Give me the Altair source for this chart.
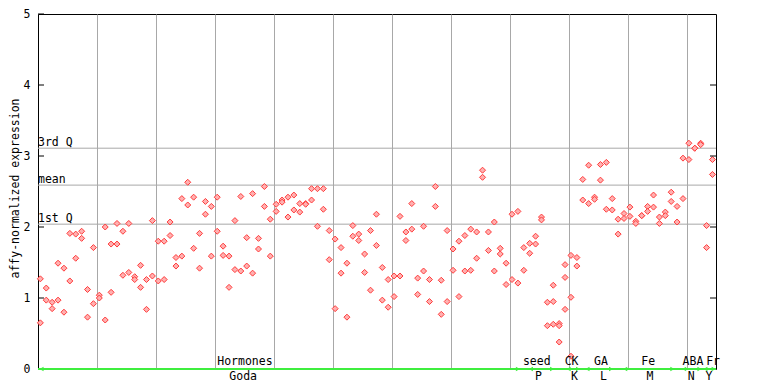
import altair as alt
import pandas as pd

# replicate values per sample column (k = 0..114)
rep_a = [1.27, 1.14, 0.94, 1.49, 1.42, 1.91, 1.90, 1.94, 1.12, 1.71,
         1.04, 2.00, 1.76, 2.05, 1.94, 2.05, 1.30, 1.46, 1.26, 2.09,
         1.80, 1.80, 2.07, 1.57, 2.40, 2.63, 2.42, 1.91, 2.36, 2.29,
         2.42, 1.73, 1.59, 2.09, 2.43, 1.85, 2.47, 1.84, 2.57, 2.11,
         2.32, 2.38, 2.42, 2.45, 2.33, 2.33, 2.54, 2.54, 2.54, 1.95,
         1.83, 1.71, 1.49, 2.02, 1.90, 1.62, 1.95, 2.18, 1.43, 1.26,
         1.31, 2.15, 1.93, 2.33, 1.28, 2.01, 1.26, 2.57, 1.25, 1.95,
         1.69, 1.80, 1.88, 1.97, 1.93, 2.80, 1.93, 2.07, 1.70, 1.49,
         2.18, 2.22, 1.71, 1.77, 1.87, 2.14, 0.94, 1.18, 0.64, 1.47,
         1.60, 1.57, 2.67, 2.87, 2.42, 2.88, 2.91, 2.40, 2.11, 2.19,
         2.28, 2.08, 2.16, 2.29, 2.45, 2.14, 2.21, 2.49, 2.29, 2.97,
         3.18, 3.11, 3.18, 2.02, 2.95]
rep_b = [0.65, 0.97, 0.85, 0.97, 0.80, 1.24, 1.56, 1.84, 0.73, 0.92,
         1.00, 0.69, 1.08, 1.76, 1.32, 1.36, 1.26, 1.15, 0.84, 1.31,
         1.24, 1.26, 1.88, 1.45, 1.59, 2.31, 1.70, 1.42, 2.18, 1.59,
         1.94, 1.60, 1.15, 1.40, 1.38, 1.45, 1.35, 1.69, 2.29, 1.59,
         2.22, 2.35, 2.14, 2.24, 2.21, 2.32, 2.38, 2.01, 2.25, 1.54,
         0.85, 1.35, 0.73, 1.87, 1.81, 1.36, 1.11, 1.74, 0.97, 0.87,
         1.02, 1.31, 1.81, 1.97, 1.05, 1.38, 0.95, 2.29, 0.77, 0.95,
         1.39, 1.02, 1.38, 1.39, 1.56, 2.70, 1.67, 1.38, 1.62, 1.19,
         1.26, 1.21, 1.39, 1.63, 1.76, 2.10, 0.61, 0.95, 0.61, 1.29,
         1.01, 1.45, 2.38, 2.33, 2.39, 2.66, 2.25, 2.24, 1.90, 2.12,
         2.15, 2.05, 2.16, 2.22, 2.28, 2.05, 2.16, 2.36, 2.07, 2.40,
         2.95, 3.11, 3.16, 1.71, 2.74]
extra_col = [87, 88, 89, 90]
extra_val = [0.63, 0.38, 0.84, 0.18]

q_names = ["3rd Q", "mean", "1st Q"]
q_values = [3.11, 2.59, 2.04]

top_labels = ["Hormones", "seed", "CK", "GA", "Fe", "ABA", "Fr"]
top_pos = [35.1, 84.6, 90.5, 95.5, 103.5, 111.1, 114.5]
bottom_labels = ["Goda", "P", "K", "L", "M", "N", "Y"]
bottom_pos = [34.8, 84.9, 91.0, 95.9, 103.8, 110.8, 113.8]
group_starts = [0.6, 83.6, 90.0, 93.2, 99.6, 109.6, 113.2]
group_ends = [81.4, 87.2, 91.6, 97.2, 107.6, 112.2, 114.6]

y_ticks = [0, 1, 2, 3, 4, 5]
x_grid = [10, 20, 30, 40, 50, 60, 70, 80, 90, 100, 110]

FONT = "DejaVu Sans Mono"
RED = "#ff3b3b"
GREEN = "#3fee3f"
GREY = "#a8a8a8"

rows = []
for k, v in enumerate(rep_a):
    rows.append({"x": k + 0.4, "v": v})
for k, v in enumerate(rep_b):
    rows.append({"x": k + 0.4, "v": v})
for k, v in zip(extra_col, extra_val):
    rows.append({"x": k + 0.4, "v": v})
pts = pd.DataFrame(rows)

xs = alt.Scale(domain=[0, 115], nice=False, zero=False)
ys = alt.Scale(domain=[0, 5], nice=False, zero=False)

X = alt.X("x:Q", scale=xs, title=None,
          axis=alt.Axis(values=x_grid, grid=True, gridColor=GREY, gridOpacity=1,
                        labels=False, ticks=False, domain=False))
Y = alt.Y("v:Q", scale=ys, title="affy-normalized expression",
          axis=alt.Axis(values=y_ticks, grid=False, ticks=False, tickSize=0, domain=False,
                        labelPadding=8, labelFont=FONT, labelFontSize=11.5, labelColor="black",
                        titleFont=FONT, titleFontSize=11.5, titleFontWeight="normal",
                        titleColor="black", titleX=-23, titleY=174, titleBaseline="middle",
                        titleAlign="center", format="d"))

points = alt.Chart(pts).mark_point(shape="diamond", filled=True, size=36,
                                   fill="#ffb0b0", stroke=RED, strokeWidth=1,
                                   opacity=1).encode(x=X, y=Y)

qdf = pd.DataFrame({"name": q_names, "v": q_values})
qrules = alt.Chart(qdf).mark_rule(color=GREY, strokeWidth=1).encode(y=alt.Y("v:Q", scale=ys))
qtext = alt.Chart(qdf).mark_text(align="left", baseline="alphabetic", dy=-2, font=FONT,
                                 fontSize=11.5, color="black").encode(
    x=alt.value(0), y=alt.Y("v:Q", scale=ys), text="name:N")

tdf = pd.DataFrame({"v": y_ticks})
lticks = alt.Chart(tdf).mark_rule(color="black").encode(
    y=alt.Y("v:Q", scale=ys), x=alt.value(0), x2=alt.value(6))
rticks = alt.Chart(tdf[tdf.v < 5]).mark_rule(color="black").encode(
    y=alt.Y("v:Q", scale=ys), x=alt.value(672), x2=alt.value(678))

green = alt.Chart(pd.DataFrame({"v": [0]})).mark_rule(color=GREEN, strokeWidth=2).encode(
    y=alt.Y("v:Q", scale=ys))

sdf = pd.DataFrame({"x": group_starts, "v": [0] * len(group_starts)})
edf = pd.DataFrame({"x": group_ends, "v": [0] * len(group_ends)})
larrow = alt.Chart(sdf).mark_point(shape="triangle-left", filled=True, size=22,
                                   color=GREEN, opacity=1).encode(
    x=alt.X("x:Q", scale=xs), y=alt.Y("v:Q", scale=ys))
rarrow = alt.Chart(edf).mark_point(shape="triangle-right", filled=True, size=22,
                                   color=GREEN, opacity=1).encode(
    x=alt.X("x:Q", scale=xs), y=alt.Y("v:Q", scale=ys))

topdf = pd.DataFrame({"x": top_pos, "v": [0] * len(top_pos), "t": top_labels})
botdf = pd.DataFrame({"x": bottom_pos, "v": [0] * len(bottom_pos), "t": bottom_labels})
toptext = alt.Chart(topdf).mark_text(baseline="alphabetic", dy=-4, font=FONT, fontSize=11.5,
                                     color="black").encode(
    x=alt.X("x:Q", scale=xs), y=alt.Y("v:Q", scale=ys), text="t:N")
bottext = alt.Chart(botdf).mark_text(baseline="alphabetic", dy=11, font=FONT, fontSize=11.5,
                                     color="black").encode(
    x=alt.X("x:Q", scale=xs), y=alt.Y("v:Q", scale=ys), text="t:N")

chart = alt.layer(qrules, qtext, points, lticks, rticks, green, larrow, rarrow,
                  toptext, bottext).properties(
    width=678, height=355,
    autosize=alt.AutoSizeParams(type="none"),
    padding={"left": 30, "top": 6, "right": 44, "bottom": 15},
    background="white",
).configure_view(stroke="black", strokeWidth=1)

chart.save("out.html", embed_options={"renderer": "svg", "actions": False})
